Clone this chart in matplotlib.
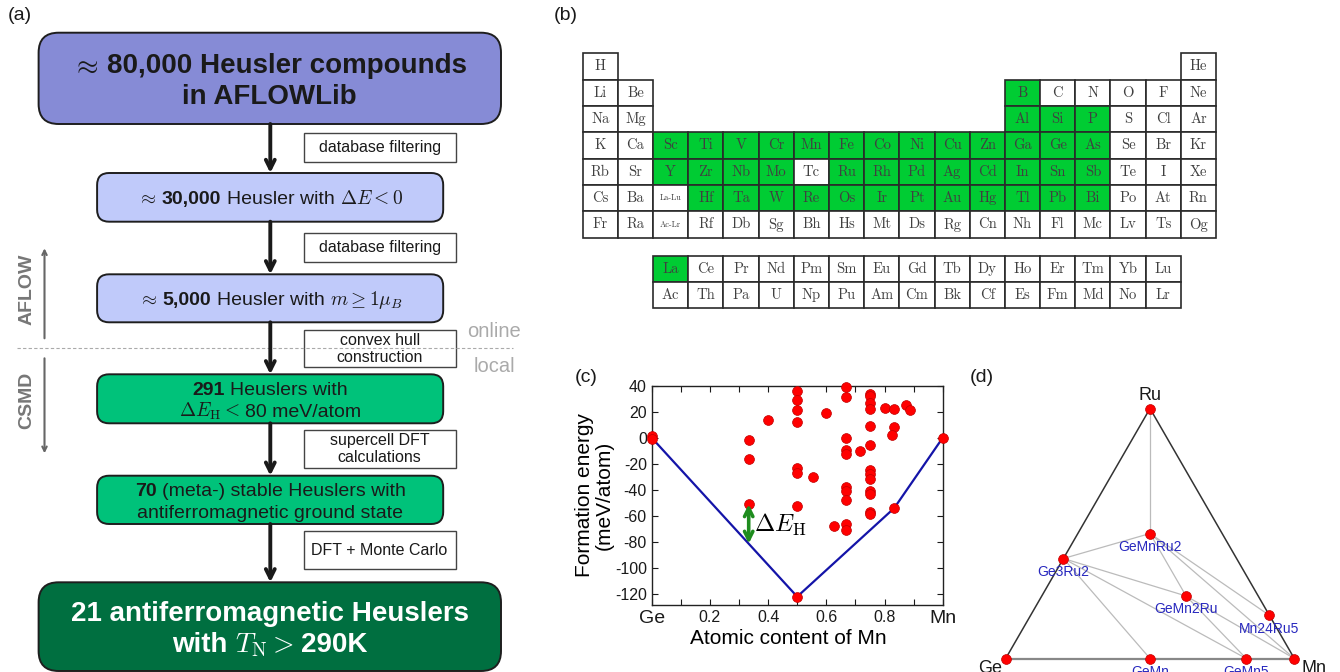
import numpy as np
import matplotlib
matplotlib.use("Agg")
import matplotlib.pyplot as plt
from matplotlib.patches import FancyBboxPatch, Rectangle

plt.rcParams['font.family'] = ['Liberation Sans', 'DejaVu Sans']
plt.rcParams['mathtext.fontset'] = 'cm'
plt.rcParams['axes.unicode_minus'] = False

W, H = 1340, 672

# ---- (a) screening workflow ----
stage_text = [
    [[(r'$\approx$', 'bold'), ('80,000 Heusler compounds', 'bold')], [('in AFLOWLib', 'bold')]],
    [[(r'$\approx$', 'normal'), ('30,000', 'bold'), ('Heusler with', 'normal'), (r'$\Delta E < 0$', 'normal')]],
    [[(r'$\approx$', 'normal'), ('5,000', 'bold'), ('Heusler with', 'normal'), (r'$m \geq 1\mu_B$', 'normal')]],
    [[('291', 'bold'), ('Heuslers with', 'normal')],
     [(r'$\Delta E_{\rm H} <$', 'normal'), ('80 meV/atom', 'normal')]],
    [[('70', 'bold'), ('(meta-) stable Heuslers with', 'normal')],
     [('antiferromagnetic ground state', 'normal')]],
    [[('21 antiferromagnetic Heuslers', 'bold')],
     [('with', 'bold'), (r'$T_{\rm N} >$', 'normal'), ('290K', 'bold')]],
]
step_labels = ['database filtering', 'database filtering', 'convex hull\nconstruction',
               'supercell DFT\ncalculations', 'DFT + Monte Carlo']

# ---- (b) elements used in the search ----
main_rows = [
    "H . . . . . . . . . . . . . . . . He",
    "Li Be . . . . . . . . . . B C N O F Ne",
    "Na Mg . . . . . . . . . . Al Si P S Cl Ar",
    "K Ca Sc Ti V Cr Mn Fe Co Ni Cu Zn Ga Ge As Se Br Kr",
    "Rb Sr Y Zr Nb Mo Tc Ru Rh Pd Ag Cd In Sn Sb Te I Xe",
    "Cs Ba La-Lu Hf Ta W Re Os Ir Pt Au Hg Tl Pb Bi Po At Rn",
    "Fr Ra Ac-Lr Rf Db Sg Bh Hs Mt Ds Rg Cn Nh Fl Mc Lv Ts Og",
]
f_rows = [
    "La Ce Pr Nd Pm Sm Eu Gd Tb Dy Ho Er Tm Yb Lu",
    "Ac Th Pa U Np Pu Am Cm Bk Cf Es Fm Md No Lr",
]
used = set("""B Al Si P Sc Ti V Cr Mn Fe Co Ni Cu Zn Ga Ge As
Y Zr Nb Mo Ru Rh Pd Ag Cd In Sn Sb Hf Ta W Re Os Ir Pt Au Hg Tl Pb Bi La""".split())

# ---- (c) Ge-Mn-Ru formation energies projected on Ge-Mn ----
mn_frac = [0, 0, 1/3, 1/3, 1/3, 0.4,
           0.5, 0.5, 0.5, 0.5, 0.5, 0.5, 0.5, 0.5,
           5/9, 0.6, 0.625,
           2/3, 2/3, 2/3, 2/3, 2/3, 2/3, 2/3, 2/3, 2/3, 2/3,
           5/7,
           0.75, 0.75, 0.75, 0.75, 0.75, 0.75, 0.75, 0.75, 0.75, 0.75, 0.75, 0.75, 0.75,
           0.8, 5/6, 5/6, 0.826, 5/6, 0.875, 8/9, 1]
e_form = [1.5, -1, -2, -16, -51, 14,
          36, 29, 21, 12, -23, -27, -52, -122,
          -30, 19, -68,
          39, 31, 0, -9, -12.5, -38, -41, -48, -66, -71,
          -10,
          34, 32, 26.5, 22, 9, -5.5, -25, -28, -32, -40.5, -43, -57, -58.5,
          23, 22, 8, 2, -54, 25.5, 21, 0]
hull_x = [0, 0.5, 5/6, 1]
hull_e = [0, -122, -54, 0]
gap_x = 1/3
gap_e = -51

# ---- (d) Ge-Mn-Ru ternary hull ----
phases = ['Ge', 'Mn', 'Ru', 'GeMnRu2', 'Ge3Ru2', 'GeMn2Ru', 'Mn24Ru5', 'GeMn', 'GeMn5']
x_ge = [1, 0, 0, 0.25, 0.6, 0.25, 0, 0.5, 1/6]
x_mn = [0, 1, 0, 0.25, 0, 0.5, 24/29, 0.5, 5/6]
x_ru = [0, 0, 1, 0.5, 0.4, 0.25, 5/29, 0, 0]
tie_lines = [('Ru', 'GeMnRu2'), ('Ge3Ru2', 'GeMnRu2'), ('Ge3Ru2', 'GeMn2Ru'),
             ('Ge3Ru2', 'GeMn'), ('Ge3Ru2', 'GeMn5'), ('GeMnRu2', 'GeMn2Ru'),
             ('GeMnRu2', 'Mn24Ru5'), ('GeMnRu2', 'Mn'), ('GeMn2Ru', 'GeMn5'),
             ('GeMn2Ru', 'Mn')]


fig = plt.figure(figsize=(W / 100, H / 100), dpi=100)


def px_axes(l, t, r, b):
    return fig.add_axes([l / W, 1 - b / H, (r - l) / W, (b - t) / H])


ov = fig.add_axes([0, 0, 1, 1])
ov.set_xlim(0, W)
ov.set_ylim(H, 0)
ov.axis('off')
renderer = fig.canvas.get_renderer()


def rich_line(cx, cy, parts, size, color):
    # lay out mixed bold / math pieces on one baseline, centred on cx
    items = [ov.text(0, cy + 0.36 * size * 100 / 72, s, fontsize=size, fontweight=w,
                     color=color, ha='left', va='baseline') for s, w in parts]
    widths = [t.get_window_extent(renderer).width for t in items]
    gap = size * 100 / 72 * 0.28
    x = cx - (sum(widths) + gap * (len(items) - 1)) / 2
    for t, wd in zip(items, widths):
        t.set_x(x)
        x += wd + gap


box_rects = [(38.6, 32.7, 501, 124), (97.1, 173, 443.2, 221.7), (97.1, 274.3, 443.2, 322.3),
             (97.1, 374.3, 443.2, 423.3), (97.1, 475.7, 443.2, 524), (38.6, 582.3, 501, 671)]
box_colors = ['#868BD6', '#C0CAFA', '#C0CAFA', '#00C27A', '#00C27A', '#006F40']
box_sizes = [20, 14, 14, 14, 14, 20]
box_round = [20, 12, 12, 12, 12, 20]
label_rows = [(133, 161.7), (233.3, 262.3), (330, 367.3), (430, 468.3), (531.3, 569)]
arrow_x = 270.3

for i, (x0, y0, x1, y1) in enumerate(box_rects):
    ov.add_patch(FancyBboxPatch((x0, y0), x1 - x0, y1 - y0,
                                boxstyle=f'round,pad=0,rounding_size={box_round[i]}',
                                fc=box_colors[i], ec='#1e1e1e', lw=1.4))
    lines = stage_text[i]
    sz = box_sizes[i]
    step = 1.13 * sz * 100 / 72
    cy0 = (y0 + y1) / 2 - step * (len(lines) - 1) / 2
    col = 'white' if i == 5 else '#1a1a1a'
    for k, parts in enumerate(lines):
        rich_line((x0 + x1) / 2, cy0 + k * step, parts, sz, col)
    if i < 5:
        ov.annotate('', xy=(arrow_x, box_rects[i + 1][1]), xytext=(arrow_x, y1),
                    arrowprops=dict(arrowstyle='->', lw=2.8, color='#1a1a1a',
                                    mutation_scale=16, shrinkA=0, shrinkB=0))

for lab, (y0, y1) in zip(step_labels, label_rows):
    ov.add_patch(Rectangle((303.7, y0), 151.9, y1 - y0, fc='white', ec='#444444', lw=1.0))
    ov.text(379.6, (y0 + y1) / 2, lab, fontsize=11.5, ha='center', va='center',
            linespacing=1.15, color='#1a1a1a')

ov.plot([17, 513], [348.3, 348.3], ls=(0, (3, 2)), color='#AAAAAA', lw=0.8)
ov.text(494, 331.7, 'online', fontsize=14.5, color='#AAAAAA', ha='center', va='center')
ov.text(494.5, 366.7, 'local', fontsize=14.5, color='#AAAAAA', ha='center', va='center')
ov.text(26.7, 289, 'AFLOW', fontsize=14, fontweight='bold', color='#777777',
        rotation=90, ha='center', va='center')
ov.text(26.7, 400, 'CSMD', fontsize=14, fontweight='bold', color='#777777',
        rotation=90, ha='center', va='center')
ov.annotate('', xy=(44.5, 248.3), xytext=(44.5, 338.3),
            arrowprops=dict(arrowstyle='->', lw=1.5, color='#666666', shrinkA=0, shrinkB=0,
                            mutation_scale=8))
ov.annotate('', xy=(44.5, 453.3), xytext=(44.5, 358.3),
            arrowprops=dict(arrowstyle='->', lw=1.5, color='#666666', shrinkA=0, shrinkB=0,
                            mutation_scale=8))

for lab, x, y in [('(a)', 20, 16), ('(b)', 566, 16), ('(c)', 586, 377), ('(d)', 982, 377)]:
    ov.text(x, y, lab, fontsize=14, ha='center', va='center', color='#1a1a1a')

# ---- (b) periodic table ----
pt = px_axes(582.7, 53.3, 1216, 308.3)
pt.set_xlim(0, 18)
pt.set_ylim(9.68, 0)
pt.axis('off')


def cell(c, r, sym):
    pt.add_patch(Rectangle((c, r), 1, 1, fc='#00CC33' if sym in used else 'white',
                           ec='#2a2a2a', lw=1.2, clip_on=False))
    small = '-' in sym
    pt.text(c + 0.5, r + 0.5, sym, fontfamily='cmr10', fontsize=6 if small else 10.5,
            color='#404040', ha='center', va='center')


for r, row in enumerate(main_rows):
    for c, sym in enumerate(row.split()):
        if sym != '.':
            cell(c, r, sym)
for r, row in enumerate(f_rows):
    for c, sym in enumerate(row.split()):
        cell(c + 2, r + 7.68, sym)

# ---- (c) formation energy vs Mn content ----
ax = px_axes(651.7, 385.7, 942.7, 605)
ax.plot(hull_x, hull_e, color='#1414A8', lw=1.6, zorder=2)
ax.scatter(mn_frac, e_form, s=50, color='#FF0000', edgecolors='#C00000', linewidths=0.5,
           zorder=3, clip_on=False)
ax.annotate('', xy=(gap_x, np.interp(gap_x, hull_x, hull_e)), xytext=(gap_x, gap_e),
            arrowprops=dict(arrowstyle='<->', color='#1E8C1E', lw=2.6, shrinkA=0, shrinkB=0,
                            mutation_scale=15), zorder=4)
ax.text(0.35, -67, r'$\Delta E_{\rm H}$', fontsize=17.5, va='center', ha='left')
ax.set_xlim(0, 1)
ax.set_ylim(-128.4, 40)
xt = np.round(np.arange(0, 1.01, 0.1), 1)
ax.set_xticks(xt)
ax.set_xticklabels(['Ge', '', '0.2', '', '0.4', '', '0.6', '', '0.8', '', 'Mn'])
yt = np.arange(-120, 41, 20)
ax.set_yticks(yt)
ax.set_yticklabels([str(v) for v in yt])
ax.tick_params(direction='in', top=True, right=True, length=4, width=0.8, labelsize=11.5,
               colors='#1a1a1a')
for lab in ax.get_xticklabels():
    if lab.get_text() in ('Ge', 'Mn'):
        lab.set_fontsize(14)
for s in ax.spines.values():
    s.set_color('#222222')
    s.set_linewidth(1.0)
ax.set_xlabel('Atomic content of Mn', fontsize=15, labelpad=2)
ax.xaxis.set_label_coords(0.468, -0.11)
ax.text(-0.198, 0.5, 'Formation energy\n(meV/atom)', transform=ax.transAxes, rotation=90,
        fontsize=15, ha='center', va='center', linespacing=1.05)

# ---- (d) ternary phase diagram ----
tx = np.array(x_mn) + np.array(x_ru) / 2
ty = np.array(x_ru) * np.sqrt(3) / 2
idx = {p: i for i, p in enumerate(phases)}
tern = px_axes(1005.7, 408.5, 1294.3, 658.5)
tern.set_xlim(0, 1)
tern.set_ylim(0, np.sqrt(3) / 2)
tern.axis('off')
for a, b in tie_lines:
    tern.plot([tx[idx[a]], tx[idx[b]]], [ty[idx[a]], ty[idx[b]]], color='#BBBBBB', lw=0.9,
              zorder=1, clip_on=False)
ge, mn, ru = idx['Ge'], idx['Mn'], idx['Ru']
tern.plot([tx[ge], tx[ru], tx[mn]], [ty[ge], ty[ru], ty[mn]], color='#333333', lw=1.1,
          zorder=2, clip_on=False)
tern.plot([tx[ge], tx[mn]], [ty[ge], ty[mn]], color='#888888', lw=1.6, zorder=2, clip_on=False)
tern.scatter(tx, ty, s=50, color='#FF0000', edgecolors='#C00000', linewidths=0.5, zorder=3,
             clip_on=False)
for p, i in idx.items():
    if p in ('Ge', 'Mn', 'Ru'):
        continue
    tern.annotate(p, (tx[i], ty[i]), xytext=(0, -9.5), textcoords='offset points',
                  ha='center', va='center', fontsize=10, color='#2828BE', annotation_clip=False)
for p, off in [('Ru', (0, 9)), ('Ge', (-11.5, -7)), ('Mn', (14.5, -7))]:
    i = idx[p]
    tern.annotate(p, (tx[i], ty[i]), xytext=off, textcoords='offset points',
                  ha='center', va='center', fontsize=13, color='#1a1a1a', annotation_clip=False)

fig.savefig('out.png', dpi=100)
